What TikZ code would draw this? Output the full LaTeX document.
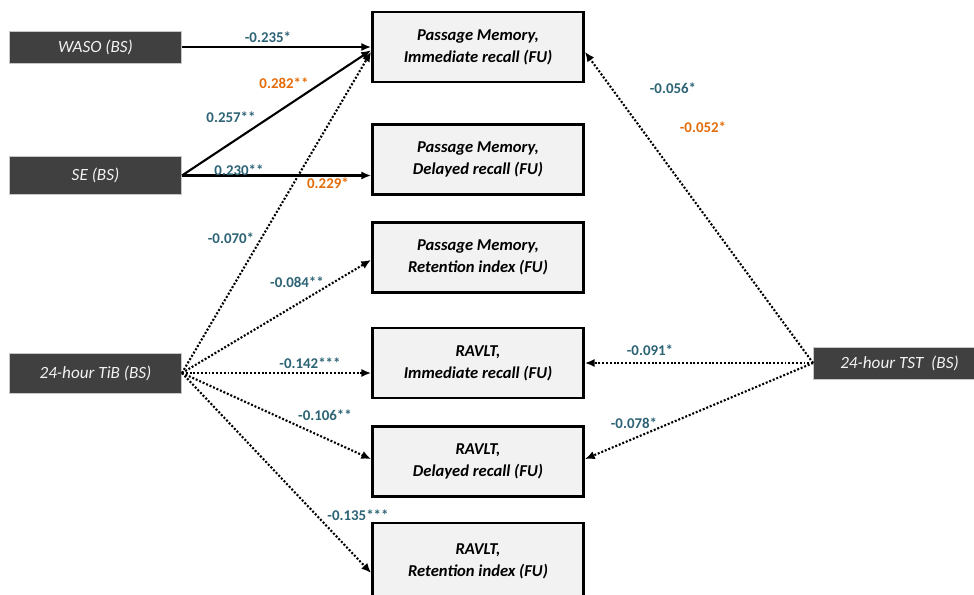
\documentclass[tikz,border=0pt]{standalone}
\usepackage{fontspec}
\setmainfont{Carlito}
\usetikzlibrary{arrows.meta}
\definecolor{tealc}{HTML}{2C6375}
\definecolor{orngc}{HTML}{E46C0A}
\definecolor{darkbox}{HTML}{404040}
\definecolor{lightbox}{HTML}{F2F2F2}
\begin{document}
\begin{tikzpicture}[x=0.025cm,y=-0.025cm,
  srcbox/.style={fill=darkbox, draw=black!22, line width=0.6pt, minimum width=4.3cm,
    text=white!95!black, font=\itshape\fontsize{12.2}{14}\selectfont, inner sep=0pt},
  outbox/.style={fill=lightbox, draw=black, line width=1.8pt, minimum width=5.28cm,
    minimum height=1.76cm, align=center, inner sep=0pt,
    font=\bfseries\itshape\fontsize{11.8}{15.6}\selectfont},
  conn/.style={line width=1.5pt, -{Latex[length=7pt,width=6pt]}},
  dotconn/.style={conn, line width=1.5pt, dash pattern=on 1.4pt off 1.3pt},
  lbl/.style={font=\bfseries\fontsize{10.6}{12}\selectfont, text=tealc, inner sep=0pt},
  olbl/.style={lbl, text=orngc}
]
\useasboundingbox (0,0) rectangle (974,594);
\clip (0,0) rectangle (974,594);
\fill[white] (0,0) rectangle (974,594);

% source boxes
\node[srcbox, minimum height=0.8cm] (waso) at (95.5,47) {WASO (BS)};
\node[srcbox, minimum height=0.97cm] (se) at (95.5,175.5) {SE (BS)};
\node[srcbox, minimum height=1.0cm] (tib) at (95.5,373) {24-hour TiB (BS)};
\node[srcbox, minimum height=0.8cm] (tst) at (899.5,363) {24-hour TST\ \ (BS)};

% outcome boxes
\node[outbox] (b1) at (478,47) {Passage Memory,\\Immediate recall (FU)};
\node[outbox] (b2) at (478,159.5) {Passage Memory,\\Delayed recall (FU)};
\node[outbox] (b3) at (478,257.5) {Passage Memory,\\Retention index (FU)};
\node[outbox] (b4) at (478,363) {RAVLT,\\Immediate recall (FU)};
\node[outbox] (b5) at (478,461.5) {RAVLT,\\Delayed recall (FU)};
\node[outbox, minimum height=1.9cm] (b6) at (478,561) {RAVLT,\\Retention index (FU)};

% connectors
\draw[conn] (waso.east) -- (b1.west);
\draw[conn] (se.east) -- ([yshift=-0.08cm]b1.west);
\draw[conn] (se.east) -- (b2.west |- se.east);
\draw[dotconn] (tib.east) -- ([yshift=-0.12cm]b1.west);
\draw[dotconn] (tib.east) -- ([yshift=-0.06cm]b3.west);
\draw[dotconn] (tib.east) -- (b4.west |- tib.east);
\draw[dotconn] (tib.east) -- ([yshift=0.06cm]b5.west);
\draw[dotconn] (tib.east) -- ([yshift=-0.3cm]b6.west);
\draw[dotconn] (tst.west) -- ([yshift=-0.12cm]b1.east);
\draw[dotconn] (tst.west) -- (b4.east);
\draw[dotconn] (tst.west) -- ([yshift=0.06cm]b5.east);

% labels
\node[lbl] (l1) at (268,37) {-0.235*};
\node[olbl] (l2) at (284,83) {0.282**};
\node[lbl] (l3) at (231,117) {0.257**};
\node[lbl] (l4) at (239,170) {0.230**};
\node[olbl] (l5) at (328,183) {0.229*};
\node[lbl] (l6) at (231,238) {-0.070*};
\node[lbl] (l7) at (297,282) {-0.084**};
\node[lbl] (l8) at (310,363) {-0.142***};
\node[lbl] (l9) at (325,415) {-0.106**};
\node[lbl] (l10) at (358,515) {-0.135***};
\node[lbl] (l11) at (673,88) {-0.056*};
\node[olbl] (l12) at (703,127) {-0.052*};
\node[lbl] (l13) at (650,350) {-0.091*};
\node[lbl] (l14) at (634,423) {-0.078*};
\end{tikzpicture}
\end{document}
